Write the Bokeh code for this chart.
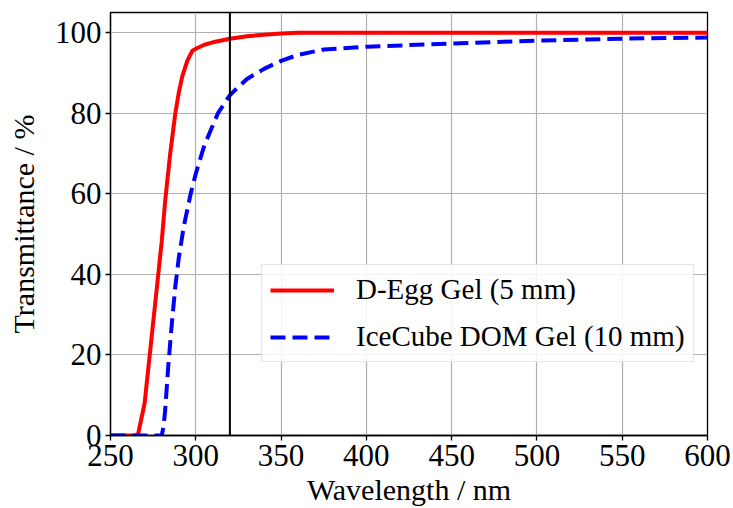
from bokeh.plotting import figure
from bokeh.models import Span, Legend, LegendItem, FixedTicker, Range1d
from bokeh.embed import file_html
from bokeh.resources import INLINE

# Data
degg_wl = [250, 266, 270, 273, 276, 278, 280, 282, 285, 288, 290, 292, 295, 298, 300, 305, 310, 320, 330, 340, 350, 360, 400, 500, 600]
degg_tr = [0, 0, 8, 20, 32, 40, 48, 58, 70, 80, 85, 89, 93, 95.5, 96, 97, 97.6, 98.5, 99.1, 99.5, 99.8, 100, 100, 100, 100]
dom_wl = [250, 280, 281, 282, 284, 286, 288, 290, 293, 297, 300, 305, 310, 313, 320, 330, 340, 350, 360, 375, 400, 450, 500, 550, 600]
dom_tr = [0, 0, 2, 6, 18, 28, 37, 44, 52, 60, 65, 72, 77, 80, 84.5, 88.5, 91, 93, 94.5, 95.8, 96.5, 97.3, 98, 98.5, 98.8]
x_ticks = [250, 300, 350, 400, 450, 500, 550, 600]
y_ticks = [0, 20, 40, 60, 80, 100]
cut_wl = 320

FONT = "Liberation Serif"

p = figure(width=733, height=508, output_backend="svg", toolbar_location=None,
           x_range=Range1d(250, 600), y_range=Range1d(0, 105),
           min_border_left=110, min_border_right=26, min_border_top=12, min_border_bottom=72)

p.background_fill_color = "white"
p.outline_line_color = "black"
p.outline_line_width = 1.3

for ax in (p.xaxis[0], p.yaxis[0]):
    ax.major_label_text_font = FONT
    ax.major_label_text_font_size = "31px"
    ax.major_label_text_color = "black"
    ax.axis_label_text_font = FONT
    ax.axis_label_text_font_size = "30px"
    ax.axis_label_text_font_style = "normal"
    ax.axis_label_text_color = "black"
    ax.axis_line_color = "black"
    ax.axis_line_width = 1.3
    ax.major_tick_line_color = "black"
    ax.major_tick_line_width = 1.3
    ax.major_tick_out = 5
    ax.major_tick_in = 0
    ax.minor_tick_line_color = None

p.xaxis.ticker = FixedTicker(ticks=x_ticks)
p.yaxis.ticker = FixedTicker(ticks=y_ticks)
p.xaxis.axis_label = "Wavelength / nm"
p.yaxis.axis_label = "Transmittance / %"
p.xaxis.major_label_standoff = 4
p.yaxis.major_label_standoff = 4
p.xaxis.axis_label_standoff = 4
p.yaxis.axis_label_standoff = 12

p.xgrid.ticker = FixedTicker(ticks=x_ticks)
p.ygrid.ticker = FixedTicker(ticks=y_ticks)
p.grid.grid_line_color = "#b0b0b0"
p.grid.grid_line_width = 1.2

r1 = p.line(degg_wl, degg_tr, line_color="red", line_width=4)
r2 = p.line(dom_wl, dom_tr, line_color="blue", line_width=4, line_dash="15 7")

vline = Span(location=cut_wl, dimension="height", line_color="black", line_width=2)
p.add_layout(vline)

legend = Legend(items=[LegendItem(label="D-Egg Gel (5 mm)", renderers=[r1]),
                       LegendItem(label="IceCube DOM Gel (10 mm)", renderers=[r2])],
                location=(151, 73))
legend.label_text_font = FONT
legend.label_text_font_size = "29px"
legend.label_text_color = "black"
legend.glyph_width = 64
legend.glyph_height = 32
legend.label_standoff = 22
legend.spacing = 14
legend.padding = 8
legend.margin = 0
legend.border_line_color = "#cccccc"
legend.border_line_width = 1
legend.background_fill_alpha = 0.85
p.add_layout(legend, "center")

open("out.html", "w").write(file_html(p, INLINE))
